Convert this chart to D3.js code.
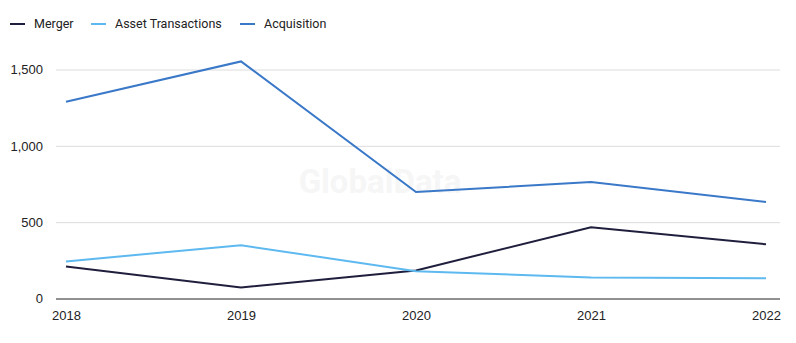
<!DOCTYPE html>
<html>
<head>
<meta charset="utf-8">
<script src="https://cdn.jsdelivr.net/npm/d3@7"></script>
<style>
  body { margin: 0; background: #fff; }
  svg { font-family: Roboto, "Liberation Sans", sans-serif; }
  .tick text { fill: #222; font-size: 13px; }
  .legend text { fill: #222; font-size: 12.5px; }
</style>
</head>
<body>
<svg id="chart" width="796" height="343"></svg>
<script>
const years = [2018, 2019, 2020, 2021, 2022];
const merger = [210, 72, 184, 467, 355];
const assetTransactions = [243, 349, 178, 138, 132];
const acquisition = [1289, 1553, 697, 763, 632];
const yTicks = [0, 500, 1000, 1500];

const series = [
  { name: "Merger", values: merger, color: "#1f1f3d" },
  { name: "Asset Transactions", values: assetTransactions, color: "#5db9ef" },
  { name: "Acquisition", values: acquisition, color: "#3a78c8" }
];

const svg = d3.select("#chart");
const margin = { top: 69, right: 16, bottom: 45, left: 56 };
const width = 796, height = 343;
const innerW = width - margin.left - margin.right;
const innerH = height - margin.top - margin.bottom;

// scales: 2018..2022 sit a bit inside the gridlines
const x = d3.scalePoint()
  .domain(years)
  .range([10, innerW - 14]);
const y = d3.scaleLinear()
  .domain([0, 1500])
  .range([innerH + 0.5, 0.5]);

const g = svg.append("g")
  .attr("transform", `translate(${margin.left},${margin.top})`);

// watermark
g.append("text")
  .attr("x", 380 - margin.left)
  .attr("y", 193 - margin.top)
  .attr("text-anchor", "middle")
  .attr("font-size", 33)
  .attr("font-weight", "bold")
  .attr("fill", "#f6f6f6")
  .text("GlobalData");

// y axis with gridlines
const yAxisG = g.append("g")
  .call(d3.axisLeft(y).tickValues(yTicks).tickSize(-innerW).tickPadding(13)
    .tickFormat(d3.format(",")));
yAxisG.select(".domain").remove();
yAxisG.selectAll(".tick line").attr("stroke", "#dcdcdc");
yAxisG.selectAll(".tick").filter(d => d === 0).select("line").attr("stroke", "#222");

// x axis
const xAxisG = g.append("g")
  .attr("transform", `translate(0,${innerH})`)
  .call(d3.axisBottom(x).tickSize(0).tickPadding(13));
xAxisG.select(".domain").remove();

// lines
const line = d3.line()
  .x((d, i) => x(years[i]))
  .y(d => y(d));

g.selectAll(".series")
  .data(series)
  .enter().append("path")
    .attr("class", "series")
    .attr("fill", "none")
    .attr("stroke", d => d.color)
    .attr("stroke-width", 2)
    .attr("d", d => line(d.values));

// legend
const legendX = [10, 91, 240];
const legend = svg.append("g").attr("class", "legend");
const item = legend.selectAll("g")
  .data(series)
  .enter().append("g")
    .attr("transform", (d, i) => `translate(${legendX[i]},24)`);
item.append("line")
  .attr("x1", 0).attr("x2", 15)
  .attr("stroke", d => d.color)
  .attr("stroke-width", 2);
item.append("text")
  .attr("x", 24)
  .attr("dy", "0.35em")
  .text(d => d.name);
</script>
</body>
</html>
